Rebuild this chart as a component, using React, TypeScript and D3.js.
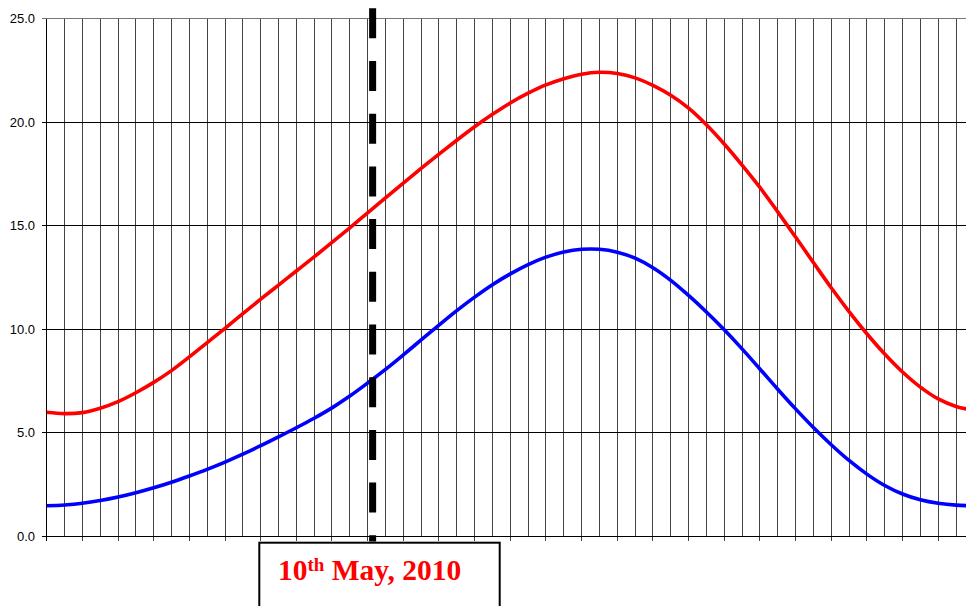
import React from 'react';
import * as d3 from 'd3';

// weekly values, week 0..52
const weeks = d3.range(0, 53);
const redValues = [
  5.99, 5.92, 5.97, 6.18, 6.5, 6.93, 7.43, 8.0, 8.66, 9.35, 10.04, 10.75, 11.45, 12.13,
  12.81, 13.49, 14.19, 14.9, 15.62, 16.34, 17.06, 17.77, 18.46, 19.13, 19.78, 20.38,
  20.93, 21.4, 21.8, 22.1, 22.32, 22.41, 22.35, 22.14, 21.78, 21.3, 20.68, 19.88,
  18.95, 17.93, 16.85, 15.67, 14.45, 13.22, 12.0, 10.85, 9.78, 8.8, 7.93, 7.2, 6.63,
  6.27, 6.08,
];
const blueValues = [
  1.47, 1.51, 1.59, 1.72, 1.89, 2.1, 2.34, 2.61, 2.91, 3.23, 3.58, 3.96, 4.37, 4.8,
  5.24, 5.7, 6.2, 6.77, 7.4, 8.06, 8.76, 9.48, 10.2, 10.9, 11.55, 12.15, 12.67,
  13.12, 13.48, 13.73, 13.86, 13.86, 13.72, 13.43, 12.97, 12.36, 11.63, 10.83, 9.97,
  9.05, 8.08, 7.1, 6.15, 5.25, 4.42, 3.66, 3.0, 2.45, 2.04, 1.76, 1.59, 1.5, 1.47,
];
const yTicks = [0, 5, 10, 15, 20, 25];
const markerWeek = 18.28; // 10th May, 2010

const W = 966;
const H = 606;
const left = 46.7;
const step = 17.83;
const top = 18.7;
const bottom = 536.2;

const App: React.FC = () => {
  const x = d3.scaleLinear().domain([0, 52]).range([left, left + 52 * step]);
  const y = d3.scaleLinear().domain([0, 25]).range([bottom, top]);

  const line = d3.line<number>()
    .x((d, i) => x(weeks[i]))
    .y(d => y(d))
    .curve(d3.curveCatmullRom.alpha(0.5));

  const mx = x(markerWeek);

  return (
    <div style={{ position: 'absolute', left: 0, top: 0 }}>
      <svg width={W} height={H} style={{ display: 'block', background: '#fff' }}>
        {/* vertical grid */}
        {weeks.map(w => (
          <line key={'v' + w} x1={x(w)} x2={x(w)} y1={top} y2={w % 2 === 0 ? bottom + 4.5 : bottom}
            stroke={w === 0 ? '#000' : '#444'} strokeWidth={1} shapeRendering="crispEdges" />
        ))}
        {/* horizontal grid */}
        {yTicks.map(t => (
          <g key={'h' + t}>
            <line x1={left - 5} x2={W} y1={y(t)} y2={y(t)}
              stroke={t === 25 ? '#777' : '#000'} strokeWidth={1} shapeRendering="crispEdges" />
            <text x={35} y={y(t)} dy="0.36em" textAnchor="end"
              fontFamily="Liberation Sans, Arial, sans-serif" fontSize={13} fill="#000">
              {t.toFixed(1)}
            </text>
          </g>
        ))}
        {/* series */}
        <path d={line(redValues) || ''} fill="none" stroke="#ff0000" strokeWidth={3.6} />
        <path d={line(blueValues) || ''} fill="none" stroke="#0000ff" strokeWidth={3.6} />
        {/* date marker */}
        <line x1={mx} x2={mx} y1={8.3} y2={541.5} stroke="#000" strokeWidth={7}
          strokeDasharray="30 22.7" />
        <rect x={259.3} y={542.7} width={240.4} height={100} fill="#fff" stroke="#000" strokeWidth={2} />
        <text x={278} y={580} fontFamily="Liberation Serif, Times New Roman, serif"
          fontWeight="bold" fontSize={29.5} fill="#ff0000">
          10<tspan fontSize={19} dy={-9}>th</tspan><tspan dy={9}> May, 2010</tspan>
        </text>
      </svg>
    </div>
  );
};

export default App;
